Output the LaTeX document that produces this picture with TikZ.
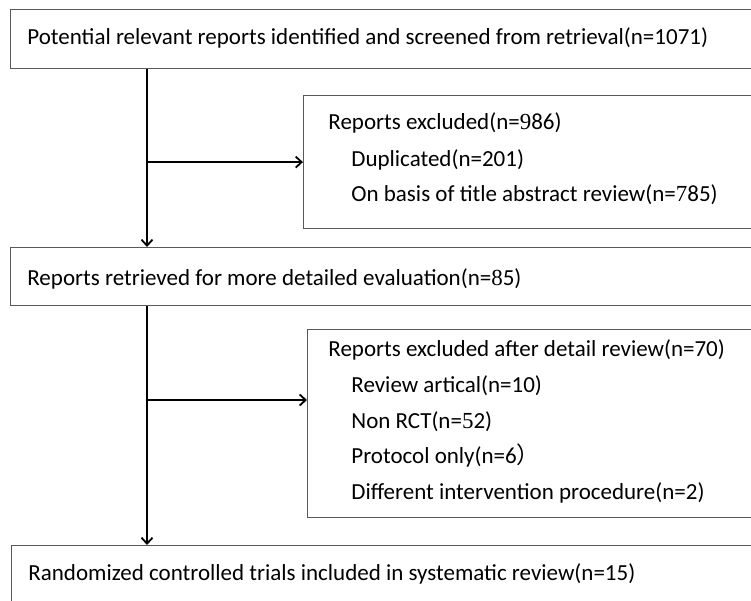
\documentclass[tikz,border=0pt]{standalone}
\usepackage{fontspec}
\setmainfont{Carlito}
\newfontfamily\serifdigit{Liberation Serif}
\newfontfamily\cjk{Noto Sans CJK SC}
\usetikzlibrary{positioning,arrows.meta}

\begin{document}
\begin{tikzpicture}[x=1pt,y=-1pt,thick]
  \tikzstyle{every node} = [font=\fontsize{23}{27}\selectfont];
  \tikzstyle{stage} = [draw=black!65, line width=1.2pt, rectangle, anchor=north west, inner sep=0pt];
  \tikzstyle{entry} = [anchor=base west, inner sep=0pt];
  \tikzstyle{flow} = [line width=1.8pt, -{Straight Barb[length=6pt,width=11pt,line width=1.8pt]}];
  \useasboundingbox (0,0) rectangle (751,601);
  \clip (0,0) rectangle (751,601);
  % boxes
  \node[stage, minimum width=750pt, minimum height=59pt] (found) at (10,9) {};
  \node[stage, minimum width=460pt, minimum height=133pt] (excl1) at (303,95) {};
  \node[stage, minimum width=750pt, minimum height=58pt] (retrieved) at (10,247) {};
  \node[stage, minimum width=455pt, minimum height=188pt] (excl2) at (307,329) {};
  \node[stage, minimum width=750pt, minimum height=80pt] (included) at (11,545) {};
  % texts
  \node[entry] (foundtxt) at (27,45) {Potential relevant reports identified and screened from retrieval(n=1071)};
  \node[entry] (excl1txt) at (328,130) {Reports excluded(n={\serifdigit 9}86)};
  \foreach \y/\t in {167/Duplicated(n=201), 202/On basis of title abstract review(n={\serifdigit 7}85)}{
    \node[entry] (excl1-\y) at (351,\y) {\t};
  }
  \node[entry] (retrievedtxt) at (27,285) {Reports retrieved for more detailed evaluation(n={\serifdigit 8}5)};
  \node[entry] (excl2txt) at (328,356) {Reports excluded after detail review(n=70)};
  \foreach \y/\t in {392/Review artical(n=10), 428/Non RCT(n={\serifdigit 5}2), 463/Protocol only(n=6{\cjk ）}, 499/Different intervention procedure(n=2)}{
    \node[entry] (excl2-\y) at (351,\y) {\t};
  }
  \node[entry] (includedtxt) at (28,580) {Randomized controlled trials included in systematic review(n=15)};
  % arrows
  \coordinate (trunk) at (147,0);
  \coordinate (fork2) at (147,400);
  \draw[flow] (found.south -| trunk) -- (retrieved.north -| trunk);
  \draw[flow] (retrieved.south -| trunk) -- (included.north -| trunk);
  \draw[flow] (trunk |- excl1.west) -- (excl1.west);
  \draw[flow] (fork2) -- (fork2 -| excl2.west);
\end{tikzpicture}
\end{document}
